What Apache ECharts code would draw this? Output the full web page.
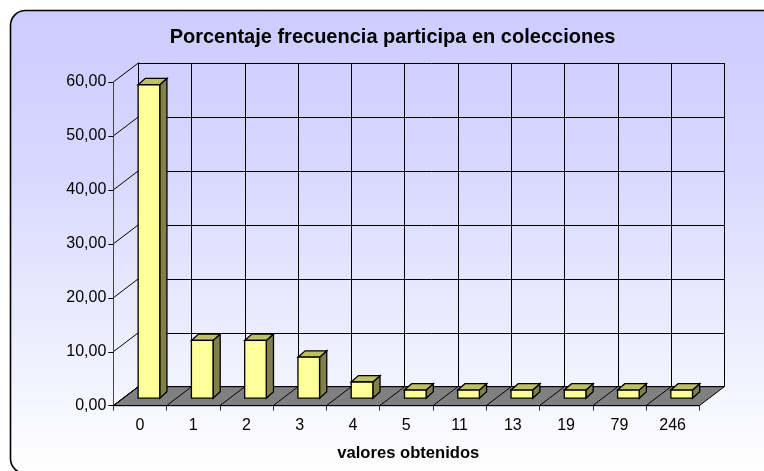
<!DOCTYPE html>
<html><head><meta charset="utf-8">
<style>html,body{margin:0;padding:0;background:#fff}#c{width:764px;height:471px}</style>
<script src="https://cdn.jsdelivr.net/npm/echarts@6/dist/echarts.min.js"></script>
</head><body><div id="c"></div>
<script>
const categories = ['0','1','2','3','4','5','11','13','19','79','246'];
const values = [58.1,10.7,10.7,7.6,3.0,1.5,1.5,1.5,1.5,1.5,1.5];
const yTicks = [0,10,20,30,40,50,60];
const chartTitle = 'Porcentaje frecuencia participa en colecciones';
const xName = 'valores obtenidos';

const FONT = '"Liberation Sans", Arial, sans-serif';
const WALL = {dx:25, dy:-19};     // depth of the plot box
const BAR = {w:21.6, dx:9, dy:-7.5, sx:7.2, sy:-6.4};
const LINE = {stroke:'#000', lineWidth:1};

function poly(points, fill, lw){
  return {type:'polygon', shape:{points}, style:{fill, stroke:'#000', lineWidth:lw||1}};
}
function structure(params, api){
  const n = categories.length;
  const bw = api.size([1,0])[0];
  const a = api.coord([0,0]); const left = a[0]-bw/2, y0 = a[1];
  const right = left + bw*n;
  const children = [poly([[left,y0],[right,y0],[right+WALL.dx,y0+WALL.dy],[left+WALL.dx,y0+WALL.dy]], '#808080')];
  for(let i=0;i<n;i++){
    const x = left+bw*i;
    children.push({type:'line', shape:{x1:x,y1:y0,x2:x+WALL.dx,y2:y0+WALL.dy}, style:LINE});
  }
  yTicks.forEach(t=>{
    const y = api.coord([0,t])[1];
    children.push({type:'line', shape:{x1:left,y1:y,x2:left+WALL.dx,y2:y+WALL.dy}, style:LINE});
  });
  return {type:'group', children};
}
function bar3d(params, api){
  const p = api.coord([api.value(0), api.value(1)]);
  const b = api.coord([api.value(0), 0]);
  const l = p[0]+BAR.dx-BAR.w/2, r = l+BAR.w;
  const t = p[1]+BAR.dy, bt = b[1]+BAR.dy;
  return {type:'group', children:[
    poly([[r,t],[r+BAR.sx,t+BAR.sy],[r+BAR.sx,bt+BAR.sy],[r,bt]], '#80804D', 1.3),
    poly([[l,t],[l+BAR.sx,t+BAR.sy],[r+BAR.sx,t+BAR.sy],[r,t]], '#BFBF66', 1.3),
    poly([[l,t],[r,t],[r,bt],[l,bt]], '#FFFF99', 1.3)
  ]};
}
const chart = echarts.init(document.getElementById('c'), null, {renderer:'canvas'});
chart.setOption({
  animation:false,
  graphic:[{type:'rect', z:-5, silent:true,
    shape:{x:10.5,y:10.5,width:767,height:463,r:15},
    style:{stroke:'#000', lineWidth:1.6,
      fill:{type:'linear',x:0,y:0,x2:0,y2:1,colorStops:[
        {offset:0,color:'#CCCCFF'},{offset:0.35,color:'#D8D8FF'},{offset:1,color:'#FFFFFF'}]}}}],
  title:{text:chartTitle, left:387.5, top:22, textAlign:'center',
    textStyle:{fontFamily:FONT, fontWeight:'bold', fontSize:20, color:'#000'}},
  grid:[
    {left:113.3, top:82, width:586, height:323.7, containLabel:false},
    {left:138.3, top:63, width:586, height:323.7, containLabel:false}
  ],
  xAxis:[
    {type:'category', gridIndex:0, data:categories, z:2,
     axisLine:{lineStyle:{color:'#000',width:1}},
     axisTick:{show:true, length:5, alignWithLabel:false, lineStyle:{color:'#333'}},
     axisLabel:{color:'#000', fontFamily:FONT, fontSize:16, margin:12},
     splitLine:{show:false},
     name:xName, nameLocation:'middle', nameGap:39,
     nameTextStyle:{fontFamily:FONT, fontWeight:'bold', fontSize:16.6, color:'#000', padding:[0,0,0,4]}},
    {type:'category', gridIndex:1, data:categories,
     axisLine:{show:false}, axisTick:{show:false}, axisLabel:{show:false},
     splitLine:{show:true, lineStyle:{color:'#000',width:1}}}
  ],
  yAxis:[
    {type:'value', gridIndex:0, min:0, max:60, interval:10, z:2,
     axisLine:{show:true, lineStyle:{color:'#444',width:1}},
     axisTick:{show:true, length:5, lineStyle:{color:'#000'}},
     axisLabel:{color:'#000', fontFamily:FONT, fontSize:16, margin:7, padding:[3,0,0,0],
       formatter:v=>v.toFixed(2).replace('.',',')},
     splitLine:{show:false}},
    {type:'value', gridIndex:1, min:0, max:60, interval:10,
     axisLine:{show:true, lineStyle:{color:'#000',width:1}}, axisTick:{show:false}, axisLabel:{show:false},
     splitLine:{show:true, lineStyle:{color:'#000',width:1}}}
  ],
  series:[
    {type:'custom', xAxisIndex:0, yAxisIndex:0, z:1, silent:true, clip:false,
     data:[[0,0]], encode:{x:0,y:1}, renderItem:structure},
    {type:'custom', xAxisIndex:0, yAxisIndex:0, z:3, silent:true, clip:false,
     data:values.map((v,i)=>[i,v]), encode:{x:0,y:1}, renderItem:bar3d}
  ]
});
</script></body></html>
